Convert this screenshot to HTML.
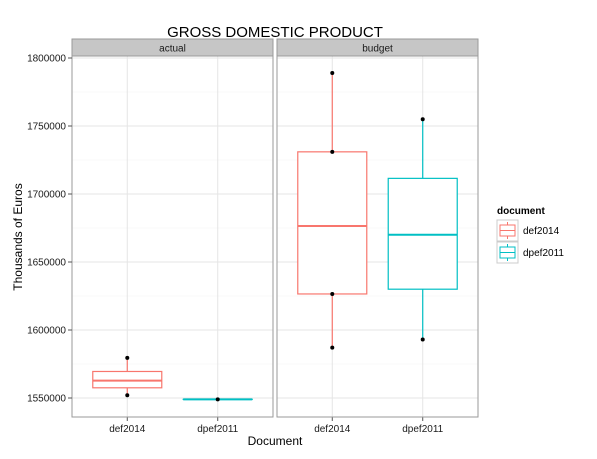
<!DOCTYPE html>
<html><head><meta charset="utf-8"><style>
body{margin:0;background:#fff;}
svg{display:block;font-family:"Liberation Sans",Arial,sans-serif;}
</style></head><body>
<svg id="chart" width="597" height="459"></svg>
<script>
const panels = ["actual","budget"];
const categories = ["def2014","dpef2011"];
const colors = ["#F8766D","#00BFC4"];
// [panel][category] = [lowerWhisker, q1, median, q3, upperWhisker]
const boxActual = [[1552000,1557500,1562800,1569500,1579500],[1549000,1549000,1549000,1549000,1549000]];
const boxBudget = [[1587000,1626500,1676500,1731000,1789000],[1593000,1630000,1670000,1711500,1755000]];
const pointsActual = [[1552000,1579500],[1549000]];
const pointsBudget = [[1587000,1626500,1731000,1789000],[1593000,1755000]];
const yTicks = [1550000,1600000,1650000,1700000,1750000,1800000];
const boxes=[boxActual,boxBudget], pts=[pointsActual,pointsBudget];
const NS="http://www.w3.org/2000/svg", svg=document.getElementById('chart');
function el(t,a,p){const e=document.createElementNS(NS,t);for(const k in a)e.setAttribute(k,a[k]);(p||svg).appendChild(e);return e;}
const pLeft=[72,277], pW=201, pTop=56, pBot=417;
function y(v){return 398-(v-1550000)*68/50000;}
function x(p,i){return pLeft[p]+pW*(i===0?0.275:0.725);}
const t=el('text',{x:275,y:37,'text-anchor':'middle','font-size':15});t.textContent="GROSS DOMESTIC PRODUCT";

for(let p=0;p<2;p++){
  const g=el('g',{});
  
  el('rect',{x:pLeft[p],y:pTop,width:pW,height:pBot-pTop,fill:'#fff'},g);
  for(let i=0;i<yTicks.length-1;i++){const v=yTicks[i]+25000;el('line',{x1:pLeft[p],x2:pLeft[p]+pW,y1:y(v),y2:y(v),stroke:'#f2f2f2','stroke-width':0.6},g);}
  yTicks.forEach(v=>el('line',{x1:pLeft[p],x2:pLeft[p]+pW,y1:y(v),y2:y(v),stroke:'#e5e5e5','stroke-width':1},g));
  categories.forEach((c,i)=>el('line',{x1:x(p,i),x2:x(p,i),y1:pTop,y2:pBot,stroke:'#e5e5e5','stroke-width':1},g));
  const strip=el('rect',{x:pLeft[p],y:39,width:pW,height:17,fill:'#c6c6c6',stroke:'#9a9a9a','stroke-width':1},g);
  
  const st=el('text',{x:pLeft[p]+pW/2,y:51.5,'text-anchor':'middle','font-size':10,fill:'#1a1a1a'},g);st.textContent=panels[p];
  categories.forEach((c,i)=>{
    const b=boxes[p][i], cx=x(p,i), col=colors[i], w=69;
    const bg=el('g',{},g);
    
    el('line',{x1:cx,x2:cx,y1:y(b[0]),y2:y(b[1]),stroke:col,'stroke-width':1.2},bg);
    el('line',{x1:cx,x2:cx,y1:y(b[3]),y2:y(b[4]),stroke:col,'stroke-width':1.2},bg);
    el('rect',{x:cx-w/2,y:y(b[3]),width:w,height:Math.max(0.01,y(b[1])-y(b[3])),fill:'#fff',stroke:col,'stroke-width':1.2},bg);
    el('line',{x1:cx-w/2,x2:cx+w/2,y1:y(b[2]),y2:y(b[2]),stroke:col,'stroke-width':2},bg);
    pts[p][i].forEach(v=>{const d=el('circle',{cx:cx,cy:y(v),r:2,fill:'#000'},bg);
      });
    el('line',{x1:cx,x2:cx,y1:pBot,y2:pBot+4,stroke:'#555'},g);
    const lt=el('text',{x:cx,y:pBot+15,'text-anchor':'middle','font-size':10,fill:'#1a1a1a'},g);lt.textContent=c;
    
  });
  el('rect',{x:pLeft[p],y:pTop,width:pW,height:pBot-pTop,fill:'none',stroke:'#9a9a9a','stroke-width':1},g);
}
yTicks.forEach(v=>{
  el('line',{x1:68,x2:72,y1:y(v),y2:y(v),stroke:'#555'});
  const tl=el('text',{x:66,y:y(v)+3.5,'text-anchor':'end','font-size':10,fill:'#1a1a1a'});tl.textContent=v;
  
});
const yt=el('text',{transform:'translate(22,237) rotate(-90)','text-anchor':'middle','font-size':12});yt.textContent="Thousands of Euros";

const xt=el('text',{x:275,y:445,'text-anchor':'middle','font-size':12});xt.textContent="Document";

const lg=el('g',{});
const ltt=el('text',{x:497,y:214,'font-size':10,'font-weight':'bold'},lg);ltt.textContent="document";
categories.forEach((c,i)=>{
  const e=el('g',{},lg);
  const ky=220+i*22;
  el('rect',{x:497,y:ky,width:21,height:21,fill:'#fff',stroke:'#ccc'},e);
  el('line',{x1:507.5,x2:507.5,y1:ky+2,y2:ky+19,stroke:colors[i]},e);
  el('rect',{x:500,y:ky+5,width:15,height:11,fill:'#fff',stroke:colors[i]},e);
  el('line',{x1:500,x2:515,y1:ky+10.5,y2:ky+10.5,stroke:colors[i]},e);
  const tx=el('text',{x:523,y:ky+14,'font-size':10},e);tx.textContent=c;
});
</script>
</body></html>
